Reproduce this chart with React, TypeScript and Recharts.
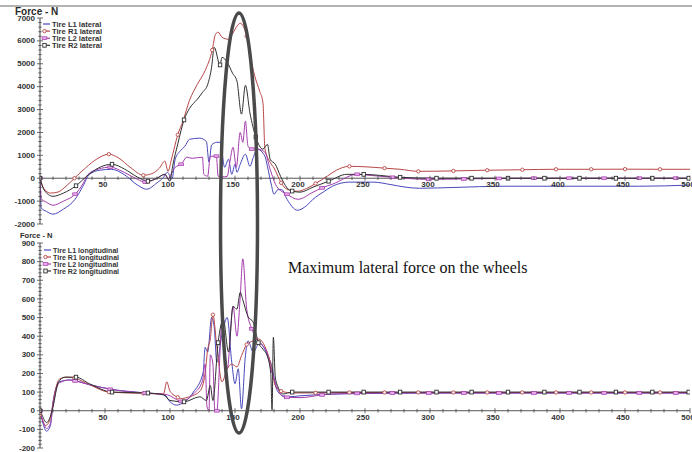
import React from "react";
import { LineChart, Line, XAxis, YAxis, ReferenceLine } from "recharts";

type Pt = [number, number];

// ---- lateral forces (N) vs. x ----
const latL1: Pt[] = [
  [0, 0], [1, -1300], [5, -1450], [10, -1570], [18, -1350], [27, -920], [33, -350], [38, 170],
  [46, 350], [55, 390], [65, 150], [75, -300], [82, -480], [90, -200], [95, 40], [98, 260],
  [101.5, -40], [104, 830], [108, 1200], [111.5, 1400], [115, 1700], [123, 1750], [128, 1600],
  [130, 700], [132, 1450], [136, 1570], [138.5, 1570], [140, 1140], [142, 480], [145, 830],
  [147.5, 170], [150, 610], [151.5, 260], [154, 610], [158, 1050], [161.5, 520], [164, 900],
  [167, 1270], [173, 960], [175, 500], [178, -300], [180, -700], [183, -500], [186, -500],
  [190, -920], [198, -1400], [205, -1200], [210, -920], [218, -600], [225, -350], [238, -170],
  [256, -170], [270, -280], [280, -380], [292, -440], [320, -400], [356, -350], [420, -350],
  [461, -350], [500, -300],
];
const latR1: Pt[] = [
  [0, 0], [3, -450], [8, -650], [14, -600], [20, -350], [26.5, 0], [35, 450], [44, 850],
  [53, 1050], [60, 900], [70, 450], [79.5, 130], [86, 200], [92, 450], [96, 750], [98.5, 300],
  [101, 800], [106, 1900], [110, 2500], [115, 3400], [121, 4100], [127, 4700], [132.5, 5600],
  [135, 6290], [137, 6380], [140, 6160], [145, 6070], [148, 6300], [151.5, 6640], [154, 6770],
  [159, 6200], [161.5, 5410], [165, 4500], [169, 3800], [171.5, 3300], [173, 1300], [177, 700],
  [180, 450], [183, 90], [185.5, -200], [190, -480], [198, -570], [205, -450], [212, -230],
  [221, 90], [228, 350], [238, 520], [250, 500], [265, 440], [277, 390], [291, 300], [318, 320],
  [344, 350], [371, 370], [397, 390], [424, 390], [450, 395], [477, 390], [500, 390],
];
const latL2: Pt[] = [
  [0, 0], [1, -900], [5, -1050], [10, -1180], [18, -1000], [27, -700], [33, -250], [37, 170],
  [45, 400], [54, 480], [65, 250], [75, -50], [81, -170], [90, 0], [96, 170], [98.5, -40],
  [101, 200], [104, 480], [108.6, 610], [113, 920], [117, 870], [125, 920], [126, 170],
  [129, 90], [131, 960], [135.7, 960], [137, 90], [140, 60], [144, 80], [146, 700],
  [148.5, 1350], [151, 480], [154, 2000], [156, 1570], [158, 2490], [160, 1400], [162.9, 1270],
  [167, 1270], [173, 1140], [177, 390], [182, -350], [190, -700], [198.5, -920], [210, -610],
  [217, -420], [225, -260], [244, 170], [255, 120], [271, 40], [299, -50], [326, -30],
  [353, -10], [380, 0], [407, 0], [434, 0], [461, 0], [489, 0], [500, 0],
];
const latR2: Pt[] = [
  [0, 0], [3, -500], [10, -790], [18, -650], [27.7, -330], [36, 90], [45, 450], [55.4, 610],
  [65, 400], [75, 50], [83, -130], [90, 0], [96, 170], [100, -130], [102, 520], [106, 1500],
  [110.8, 2550], [115, 3050], [121, 3450], [125, 3750], [129, 4100], [132, 4850], [134, 5720],
  [138.5, 4950], [140, 5280], [144, 5070], [148, 4600], [151.5, 4240], [155, 2800], [158, 4060],
  [161.5, 2850], [166, 1800], [171.5, 1270], [175, 1480], [177, 830], [181, 610], [185, 90],
  [191, -480], [194, -560], [200, -610], [210, -390], [222, -130], [236, 170], [249, 170],
  [262, 120], [277, 40], [305, 0], [332, 0], [360, 0], [388, 0], [415, 0], [443, 0], [471, 0],
  [499, 0],
];

// ---- longitudinal forces (N) vs. x ----
const lonL1: Pt[] = [
  [0, 0], [2, -60], [5, -110], [8, -80], [10, 48], [15, 155], [23, 165], [38, 140], [55, 115],
  [82, 95], [96, 85], [100, 48], [105, 30], [108, 35], [118, 100], [125.5, 205], [127, 340],
  [129, 315], [132, 500], [134, 450], [136, 260], [140, 410], [144, 500], [147.5, 260],
  [150, 145], [152.5, 225], [155, 10], [158, 295], [160, 375], [164, 315], [169, 365],
  [174.5, 305], [178.5, 235], [182, 115], [187, 80], [192, 75], [200, 80], [230, 90], [300, 95],
  [500, 95],
];
const lonR1: Pt[] = [
  [0, -20], [2, -50], [4, -80], [7, -60], [9, 0], [11.5, 100], [15, 170], [21, 180], [26.5, 175],
  [38, 140], [53, 100], [79.5, 93], [95, 90], [97.5, 155], [100, 105], [106, 72], [108, 65],
  [115, 75], [123, 105], [127, 200], [129, 330], [131, 385], [133, 515], [136, 345], [140, 155],
  [144, 225], [147.5, 250], [151.5, 235], [155, 295], [159, 355], [164, 375], [168, 385],
  [173, 345], [177, 265], [181, 135], [185.5, 105], [195, 95], [212, 96], [238, 98], [265, 98],
  [291, 98], [318, 98], [344, 98], [371, 98], [397, 98], [424, 98], [450, 98], [477, 98],
  [500, 98],
];
const lonL2: Pt[] = [
  [0, 0], [2, -50], [5, -95], [8, -70], [10, 30], [15, 150], [23, 165], [27, 160], [38, 140],
  [54, 115], [81, 95], [96, 88], [100, 80], [105, 60], [108.6, 50], [118, 90], [125, 160],
  [127, 250], [128.5, 20], [130, 0], [131, 300], [133, 250], [134.5, 0], [136, 0], [140, 475],
  [144, 225], [148.5, 560], [151.5, 400], [154, 610], [156, 815], [159, 545], [162.9, 440],
  [169, 365], [174.5, 315], [177, 240], [182, 135], [187, 75], [190, 72], [200, 70], [217, 85],
  [225, 90], [244, 93], [271, 95], [299, 95], [326, 95], [353, 95], [380, 95], [407, 95],
  [434, 95], [461, 95], [489, 95], [500, 95],
];
const lonR2: Pt[] = [
  [0, 0], [2, -30], [5, -64], [8, -30], [10, 20], [14, 150], [19, 180], [27.7, 180], [38, 145],
  [55.4, 100], [83, 95], [95, 85], [100, 55], [110.8, 48], [123, 75], [128, 55], [131, 135],
  [133, 55], [137, 365], [141, 490], [145, 315], [148.5, 560], [151.5, 545], [154, 635],
  [156, 595], [160, 505], [164, 475], [168, 365], [171.5, 330], [175, 290], [177.5, 200],
  [178.5, 5], [179.5, 395], [181, 180], [183, 130], [187, 90], [194, 100], [222, 100],
  [249, 100], [277, 100], [305, 100], [332, 100], [360, 100], [388, 100], [415, 100],
  [443, 100], [471, 100], [499, 100],
];

const LAT_NAMES = ["Tire L1 lateral", "Tire R1 lateral", "Tire L2 lateral", "Tire R2 lateral"];
const LON_NAMES = [
  "Tire L1 longitudinal",
  "Tire R1 longitudinal",
  "Tire L2 longitudinal",
  "Tire R2 longitudinal",
];

const X_TICKS = Array.from({ length: 51 }, (_, i) => i * 10);
const LAT_TICKS = Array.from({ length: 46 }, (_, i) => -2000 + i * 200);
const LON_TICKS = Array.from({ length: 56 }, (_, i) => -200 + i * 20);

// style for each tire, same order as the names
const STYLES = [
  { color: "#4848bc", mark: null as null | string, step: 0 },
  { color: "#b84646", mark: "circle", step: 26.5 },
  { color: "#a43cac", mark: "square", step: 27.15 },
  { color: "#303030", mark: "open", step: 27.7 },
];

const W = 692;
const FONT = "'Liberation Sans', Arial, sans-serif";

function markerIndexes(rows: { x: number }[], step: number) {
  const set = new Set<number>();
  if (!step) return set;
  for (let k = 0; k * step <= 500; k++) {
    const mx = k * step;
    let best = 0;
    rows.forEach((r, i) => {
      if (Math.abs(r.x - mx) < Math.abs(rows[best].x - mx)) best = i;
    });
    if (Math.abs(rows[best].x - mx) < 3) set.add(best);
  }
  return set;
}

function Marker({ kind, color, cx, cy }: { kind: string; color: string; cx: number; cy: number }) {
  if (kind === "circle")
    return <circle cx={cx} cy={cy} r={1.7} fill="#fff" stroke={color} strokeWidth={0.9} />;
  if (kind === "square")
    return (
      <rect x={cx - 2.4} y={cy - 1.4} width={4.8} height={2.8} fill="#e4a8e8" stroke={color} strokeWidth={0.7} />
    );
  return <rect x={cx - 1.7} y={cy - 1.9} width={3.4} height={3.8} fill="#fff" stroke={color} strokeWidth={0.9} />;
}

interface PanelProps {
  top: number;
  height: number;
  marginTop: number;
  xAxisH: number;
  yMin: number;
  yMax: number;
  major: number;
  yTicks: number[];
  series: Pt[][];
}

function Panel({ top, height, marginTop, xAxisH, yMin, yMax, major, yTicks, series }: PanelProps) {
  const plotH = height - marginTop - xAxisH;
  const y0 = marginTop + (plotH * yMax) / (yMax - yMin);

  const xTick = ({ x, payload }: any) => {
    const v = payload.value as number;
    const big = v % 50 === 0;
    return (
      <g>
        <line x1={x} x2={x} y1={y0 - (big ? 2.5 : 1.8)} y2={y0 + (big ? 2.5 : 1.8)} stroke="#444" strokeWidth={0.8} />
        {big && v > 0 && (
          <text x={x - 2} y={y0 + 9} textAnchor="middle" fontFamily={FONT} fontSize={8} fontWeight="bold" fill="#333">
            {v}
          </text>
        )}
      </g>
    );
  };

  const yTick = ({ y, payload }: any) => {
    const v = payload.value as number;
    const big = v % major === 0;
    return (
      <g>
        <line x1={big ? 37 : 38.3} x2={big ? 43 : 41.7} y1={y} y2={y} stroke="#444" strokeWidth={0.8} />
        {big && (
          <text x={35} y={y + 2.6} textAnchor="end" fontFamily={FONT} fontSize={8} fontWeight="bold" fill="#333">
            {v}
          </text>
        )}
      </g>
    );
  };

  return (
    <div style={{ position: "absolute", left: 0, top }}>
      <LineChart width={W} height={height} margin={{ top: marginTop, right: 2, bottom: 0, left: 0 }}>
        <XAxis
          dataKey="x"
          type="number"
          domain={[0, 500]}
          ticks={X_TICKS}
          interval={0}
          height={xAxisH}
          axisLine={false}
          tickLine={false}
          tick={xTick}
          allowDataOverflow
        />
        <YAxis
          type="number"
          domain={[yMin, yMax]}
          ticks={yTicks}
          interval={0}
          width={40}
          axisLine={{ stroke: "#444", strokeWidth: 1 }}
          tickLine={false}
          tick={yTick}
          allowDataOverflow
        />
        <ReferenceLine y={0} stroke="#555" strokeWidth={1} />
        {series.map((pts, si) => {
          const st = STYLES[si];
          const rows = pts.map(([x, y]) => ({ x, y }));
          const marks = markerIndexes(rows, st.step);
          return (
            <Line
              key={si}
              data={rows}
              dataKey="y"
              type="monotone"
              stroke={st.color}
              strokeWidth={1}
              activeDot={false}
              isAnimationActive={false}
              dot={(p: any) =>
                st.mark && marks.has(p.index) && p.cx != null ? (
                  <Marker key={`m${si}-${p.index}`} kind={st.mark} color={st.color} cx={p.cx} cy={p.cy} />
                ) : (
                  <g key={`m${si}-${p.index}`} />
                )
              }
            />
          );
        })}
      </LineChart>
    </div>
  );
}

function LegendBox({ x, y, gap, size, names }: { x: number; y: number; gap: number; size: number; names: string[] }) {
  return (
    <g>
      {names.map((n, i) => {
        const st = STYLES[i];
        const cy = y + i * gap;
        return (
          <g key={n}>
            <line x1={x} x2={x + 7} y1={cy} y2={cy} stroke={st.color} strokeWidth={1.2} />
            {st.mark && <Marker kind={st.mark} color={st.color} cx={x + 1.5} cy={cy} />}
            <text x={x + 9} y={cy + 2.5} fontFamily={FONT} fontSize={size} fontWeight="bold" fill="#333">
              {n}
            </text>
          </g>
        );
      })}
    </g>
  );
}

export default function App() {
  return (
    <div style={{ position: "absolute", left: 0, top: 0, width: W, height: 452, background: "#fff" }}>
      <Panel
        top={0}
        height={232}
        marginTop={18}
        xAxisH={8}
        yMin={-2000}
        yMax={7000}
        major={1000}
        yTicks={LAT_TICKS}
        series={[latL1, latR1, latL2, latR2]}
      />
      <Panel
        top={230}
        height={222}
        marginTop={13}
        xAxisH={4}
        yMin={-200}
        yMax={900}
        major={100}
        yTicks={LON_TICKS}
        series={[lonL1, lonR1, lonL2, lonR2]}
      />
      <svg
        width={W}
        height={452}
        style={{ position: "absolute", left: 0, top: 0, pointerEvents: "none" }}
      >
        <line x1={0} x2={W} y1={6} y2={6} stroke="#9a9a9a" strokeWidth={1.5} />
        <text x={15} y={15} fontFamily={FONT} fontSize={10} fontWeight="bold" fill="#2a2a2a">
          Force - N
        </text>
        <text x={20} y={238} fontFamily={FONT} fontSize={7.5} fontWeight="bold" fill="#2a2a2a">
          Force - N
        </text>
        <LegendBox x={43} y={24} gap={7.1} size={7.6} names={LAT_NAMES} />
        <LegendBox x={44} y={250} gap={7.0} size={7.1} names={LON_NAMES} />
        <ellipse cx={239} cy={223} rx={18.5} ry={210} fill="none" stroke="#4a4a4a" strokeWidth={3.5} />
        <text x={288} y={273} fontFamily="'Liberation Serif', 'Times New Roman', serif" fontSize={16} fill="#111">
          Maximum lateral force on the wheels
        </text>
      </svg>
    </div>
  );
}
